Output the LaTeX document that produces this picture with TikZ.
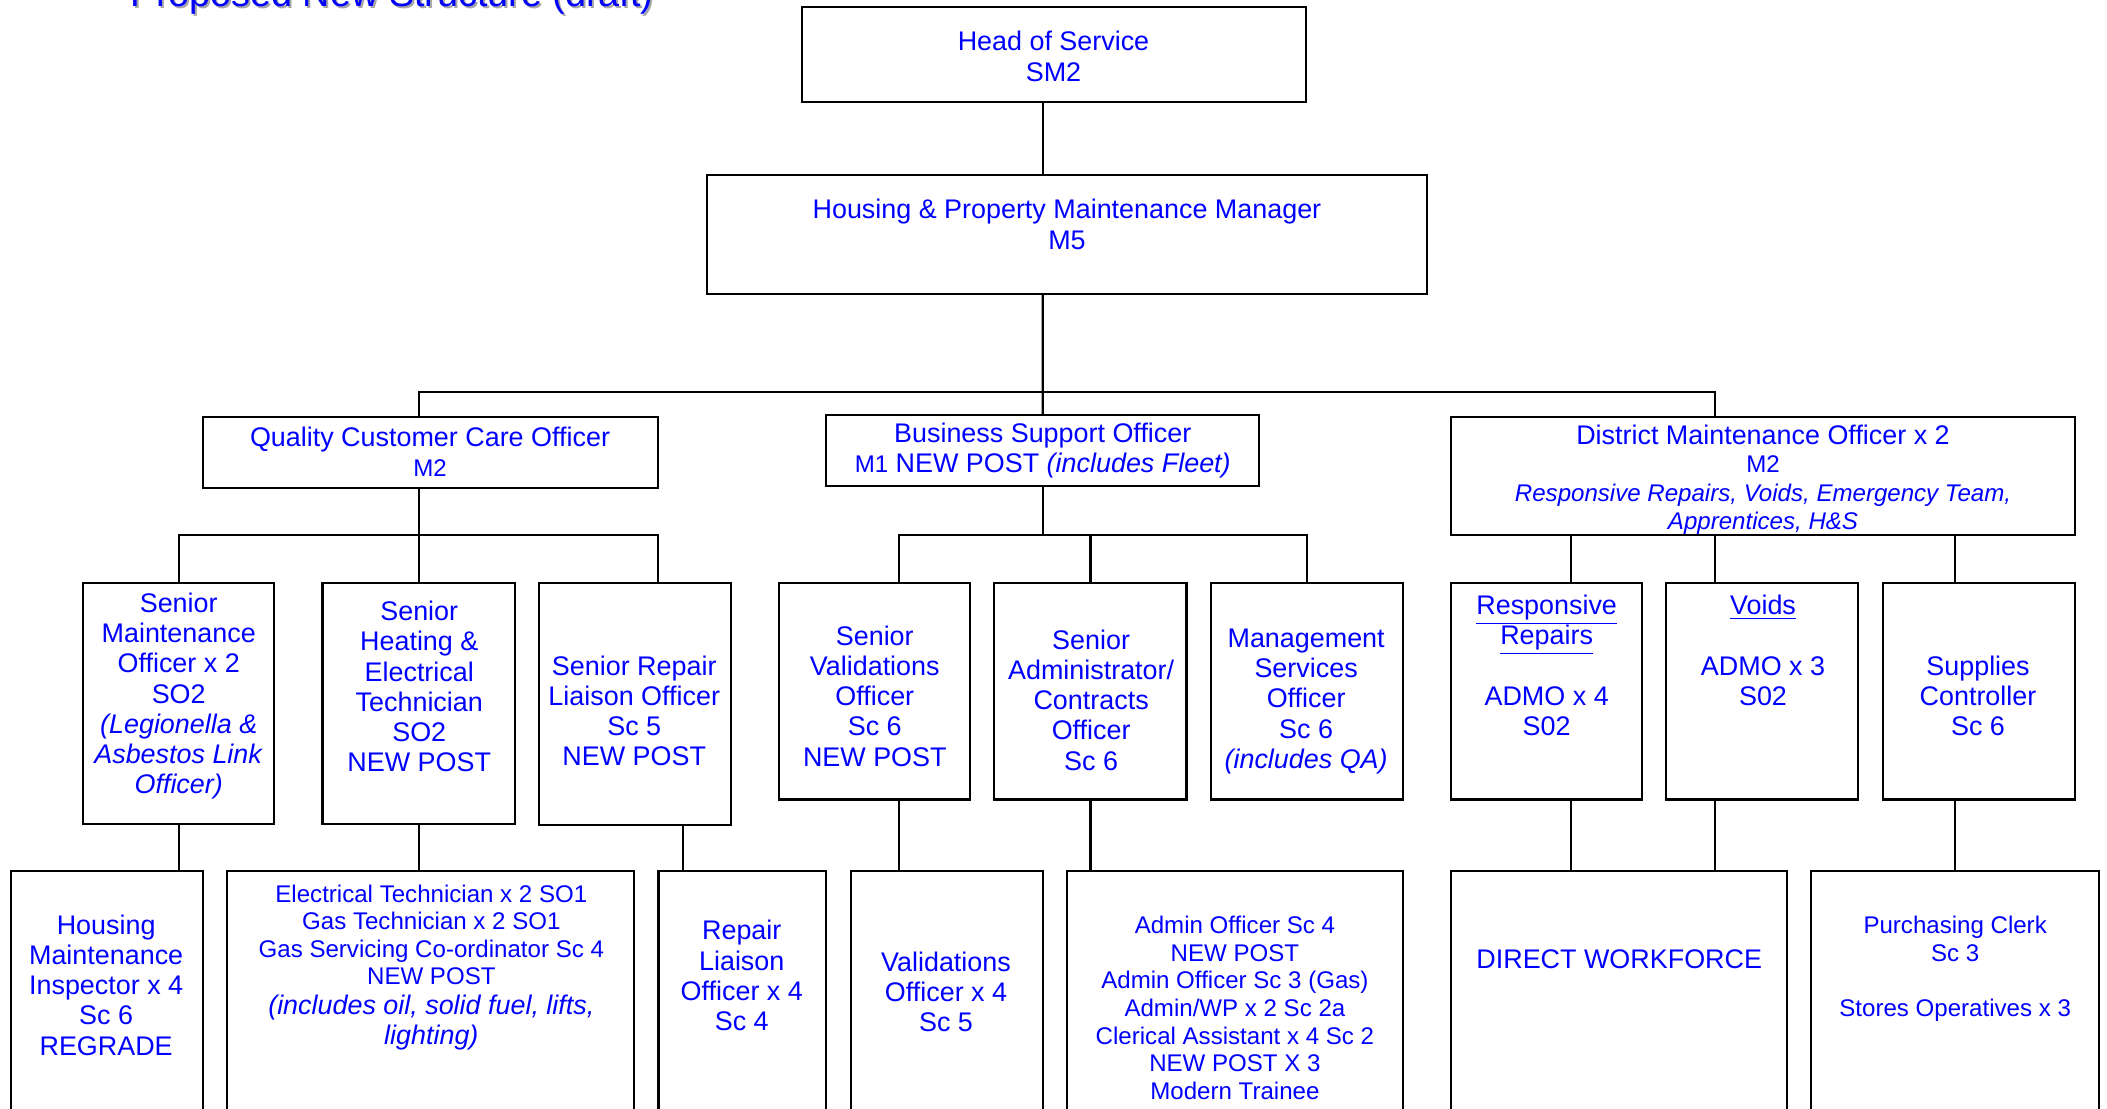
\documentclass[tikz,border=0pt]{standalone}
\usepackage{fontspec}
\setmainfont{Liberation Sans}
\usepackage{tikz}

\newcommand{\gradetxt}[1]{{\fontsize{10.2}{11.7}\selectfont #1}}

\tikzset{
  post/.style={draw, line width=0.9pt, inner sep=0pt, outer sep=0pt, anchor=north west},
  low/.style={post, minimum height=4.6cm},
  txt/.style={text=blue, align=center, inner sep=0pt, font=\fontsize{11.4}{12.8}\selectfont},
  smalltxt/.style={txt, font=\fontsize{10.2}{11.7}\selectfont},
  link/.style={line width=0.9pt},
}

\begin{document}
\begin{tikzpicture}[x=0.02cm, y=-0.02cm]
\useasboundingbox (0,0) rectangle (1568,825);

% title, cut by the top edge
\node[anchor=base west, inner sep=0pt, text=black!35, font=\fontsize{16}{18}\selectfont] (titleshadow) at (98.5,6.5) {Proposed New Structure (draft)};
\node[anchor=base west, inner sep=0pt, text=blue, font=\fontsize{16}{18}\selectfont] (title) at (97,5) {Proposed New Structure (draft)};

% frames
\node[post, minimum width=7.5cm, minimum height=1.42cm] (hos) at (597,5) {};
\node[post, minimum width=10.72cm, minimum height=1.78cm] (hpm) at (526,130) {};
\node[post, minimum width=6.78cm, minimum height=1.06cm] (qcc) at (151,310) {};
\node[post, minimum width=6.44cm, minimum height=1.06cm] (bso) at (615,309) {};
\node[post, minimum width=9.28cm, minimum height=1.76cm] (dmo) at (1080,310) {};

\node[post, minimum width=2.84cm, minimum height=3.58cm] (smo) at (62,434) {};
\node[post, minimum width=2.86cm, minimum height=3.58cm] (shet) at (240,434) {};
\node[post, minimum width=2.86cm, minimum height=3.6cm] (srlo) at (401,434) {};
\node[post, minimum width=2.84cm, minimum height=3.22cm] (svo) at (580,434) {};
\node[post, minimum width=2.86cm, minimum height=3.22cm] (saco) at (740,434) {};
\node[post, minimum width=2.86cm, minimum height=3.22cm] (mso) at (901,434) {};
\node[post, minimum width=2.84cm, minimum height=3.22cm] (rr) at (1080,434) {};
\node[post, minimum width=2.86cm, minimum height=3.22cm] (voids) at (1240,434) {};
\node[post, minimum width=2.86cm, minimum height=3.22cm] (sc) at (1401,434) {};

\node[low, minimum width=2.86cm] (hmi) at (8,648) {};
\node[low, minimum width=6.06cm] (ets) at (169,648) {};
\node[low, minimum width=2.5cm] (rlo) at (490,648) {};
\node[low, minimum width=2.86cm] (vo) at (633,648) {};
\node[low, minimum width=5cm] (adm) at (794,648) {};
\node[low, minimum width=5cm] (dw) at (1080,648) {};
\node[low, minimum width=4.28cm] (pc) at (1348,648) {};

% texts
\node[txt] (hosT) at (784,42) {Head of Service\\SM2};
\node[txt] (hpmT) at (794,167) {Housing \& Property Maintenance Manager\\M5};
\node[txt] (qccT) at (320,336) {Quality Customer Care Officer\\\gradetxt{M2}};
\node[txt] (bsoT) at (776,335) {Business Support Officer\\\gradetxt{M1} NEW POST \textit{(includes Fleet)}};
\begin{scope}
  \clip (dmo.north west) rectangle (dmo.south east);
  \node[txt, font=\fontsize{11.4}{12}\selectfont] (dmoT) at (1312,357) {District Maintenance Officer x 2\\\gradetxt{M2}\\\gradetxt{\itshape Responsive Repairs, Voids, Emergency Team,}\\\gradetxt{\itshape Apprentices, H\&S}};
\end{scope}

\node[txt] (smoT) at (133,518) {Senior\\Maintenance\\Officer x 2\\SO2\\\textit{(Legionella \&}\\\textit{Asbestos Link}\\\textit{Officer)}};
\node[txt] (shetT) at (312,511) {Senior\\Heating \&\\Electrical\\Technician\\SO2\\NEW POST};
\node[txt] (srloT) at (472,529) {Senior Repair\\Liaison Officer\\Sc 5\\NEW POST};
\node[txt] (svoT) at (651,518) {Senior\\Validations\\Officer\\Sc 6\\NEW POST};
\node[txt] (sacoT) at (812,521) {Senior\\Administrator/\\Contracts\\Officer\\Sc 6};
\node[txt] (msoT) at (972,522) {Management\\Services\\Officer\\Sc 6\\\textit{(includes QA)}};
\node[txt] (rrT) at (1151,495) {\underline{Responsive}\\\underline{Repairs}\\ \\ADMO x 4\\S02};
\node[txt] (voidsT) at (1312,484) {\underline{Voids}\\ \\ADMO x 3\\S02};
\node[txt] (scT) at (1472,518) {Supplies\\Controller\\Sc 6};

\node[txt] (hmiT) at (79,733) {Housing\\Maintenance\\Inspector x 4\\Sc 6\\REGRADE};
\node[smalltxt] (etsT) at (321,720) {Electrical Technician x 2 SO1\\Gas Technician x 2 SO1\\Gas Servicing Co-ordinator Sc 4\\NEW POST\\[1pt]\textit{\fontsize{11.4}{12.8}\selectfont (includes oil, solid fuel, lifts,}\\[1pt]\textit{\fontsize{11.4}{12.8}\selectfont lighting)}};
\node[txt] (rloT) at (552,726) {Repair\\Liaison\\Officer x 4\\Sc 4};
\node[txt] (voT) at (704,738) {Validations\\Officer x 4\\Sc 5};
\node[smalltxt] (admT) at (919,750) {Admin Officer Sc 4\\NEW POST\\Admin Officer Sc 3 (Gas)\\Admin/WP x 2 Sc 2a\\Clerical Assistant x 4 Sc 2\\NEW POST X 3\\Modern Trainee};
\node[txt] (dwT) at (1205,714) {DIRECT WORKFORCE};
\node[smalltxt] (pcT) at (1455,721) {Purchasing Clerk\\Sc 3\\ \\Stores Operatives x 3};

% connectors
\coordinate (trunk) at (776,292);
\coordinate (lvl) at (0,398);
\coordinate (colB) at (508,0);
\coordinate (colV) at (669,0);
\coordinate (colR) at (1169,0);
\coordinate (colD) at (1276,0);

\draw[link] (hos.south -| trunk) -- (hpm.north -| trunk);
\draw[link] (hpm.south -| trunk) -- (bso.north);
\draw[link] (qcc.north -| shet.north) |- (trunk) -| (dmo.north -| colD);

\draw[link] (qcc.south -| shet.north) -- (shet.north);
\draw[link] (smo.north) -- (smo.north |- lvl) -| (srlo.north -| qcc.east);
\draw[link] (bso.south) -- (bso.south |- lvl);
\draw[link] (svo.north -| colV) -- (colV |- lvl) -| (mso.north);
\draw[link] (saco.north) -- (saco.north |- lvl);
\draw[link] (dmo.south -| colR) -- (rr.north -| colR);
\draw[link] (dmo.south -| colD) -- (voids.north -| colD);
\draw[link] (dmo.south -| pc.north) -- (sc.north -| pc.north);

\draw[link] (smo.south) -- (hmi.north -| smo.south);
\draw[link] (shet.south) -- (ets.north -| shet.south);
\draw[link] (srlo.south -| colB) -- (rlo.north -| colB);
\draw[link] (svo.south -| colV) -- (vo.north -| colV);
\draw[link] (saco.south) -- (adm.north -| saco.south);
\draw[link] (rr.south -| colR) -- (dw.north -| colR);
\draw[link] (voids.south -| colD) -- (dw.north -| colD);
\draw[link] (sc.south -| pc.north) -- (pc.north);
\end{tikzpicture}
\end{document}
